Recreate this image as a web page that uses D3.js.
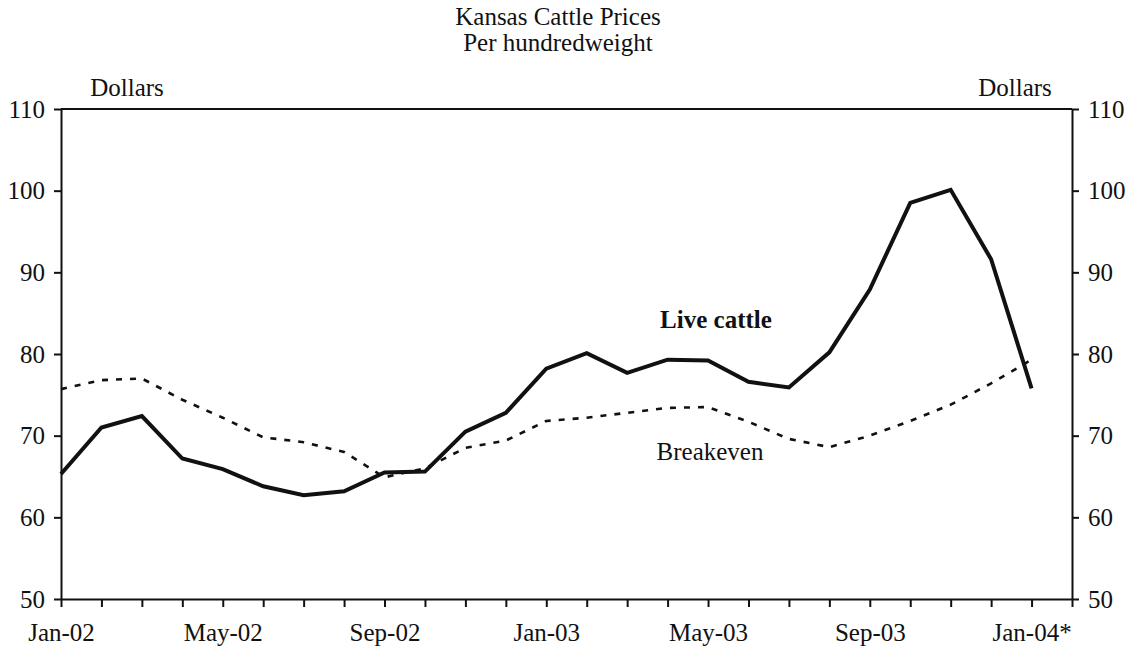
<!DOCTYPE html>
<html>
<head>
<meta charset="utf-8">
<script src="https://cdn.jsdelivr.net/npm/d3@7"></script>
<style>
  body { margin: 0; background: #fff; }
</style>
</head>
<body>
<div id="chart"></div>
<script>
// Monthly data, Jan-02 .. Jan-04
const months = ['Jan-02','Feb-02','Mar-02','Apr-02','May-02','Jun-02','Jul-02','Aug-02','Sep-02','Oct-02','Nov-02','Dec-02',
  'Jan-03','Feb-03','Mar-03','Apr-03','May-03','Jun-03','Jul-03','Aug-03','Sep-03','Oct-03','Nov-03','Dec-03','Jan-04*'];
const liveCattle = [65.3, 71.0, 72.4, 67.2, 65.9, 63.8, 62.7, 63.2, 65.5, 65.6, 70.5, 72.8,
  78.2, 80.1, 77.7, 79.3, 79.2, 76.6, 75.9, 80.2, 87.9, 98.5, 100.1, 91.6, 75.8];
const breakeven = [75.7, 76.8, 77.0, 74.4, 72.2, 69.8, 69.2, 68.0, 64.9, 66.0, 68.5, 69.4,
  71.8, 72.2, 72.8, 73.4, 73.5, 71.7, 69.6, 68.6, 70.0, 71.8, 73.8, 76.4, 79.3];
const yTicks = [50, 60, 70, 80, 90, 100, 110];

const width = 1142, height = 653;
const margin = { top: 109, right: 70, bottom: 54, left: 61 };
const FONT = "'Liberation Serif', 'DejaVu Serif', 'Times New Roman', serif";
const FS = "25px";

const svg = d3.select("#chart")
  .append("svg")
  .attr("width", width)
  .attr("height", height);

// x runs one month past the last point
const x = d3.scaleLinear()
  .domain([0, months.length])
  .range([margin.left, width - margin.right]);

const y = d3.scaleLinear()
  .domain([50, 110])
  .range([height - margin.bottom, margin.top]);

function label(xp, yp, txt, bold) {
  return svg.append("text")
    .attr("x", xp).attr("y", yp)
    .attr("text-anchor", "middle")
    .attr("font-family", FONT)
    .attr("font-size", FS)
    .attr("font-weight", bold ? "bold" : "normal")
    .attr("fill", "#111")
    .text(txt);
}

// Title
label(558, 25, "Kansas Cattle Prices");
label(558, 51, "Per hundredweight");
label(127, 96, "Dollars");
label(1015, 96, "Dollars");

// Top frame line
svg.append("line")
  .attr("x1", x(0)).attr("x2", x(months.length))
  .attr("y1", y(110)).attr("y2", y(110))
  .attr("stroke", "#111").attr("stroke-width", 2);

// Axes
const xAxis = d3.axisBottom(x)
  .tickValues(d3.range(0, months.length + 1))
  .tickFormat(i => (i % 4 === 0 && i < months.length) ? months[i] : "")
  .tickSize(8)
  .tickSizeOuter(0)
  .tickPadding(10);

const gx = svg.append("g")
  .attr("transform", `translate(0,${y(50)})`)
  .call(xAxis);

const yLeft = d3.axisLeft(y).tickValues(yTicks).tickSize(7).tickSizeOuter(0).tickPadding(9);
const yRight = d3.axisRight(y).tickValues(yTicks).tickSize(7).tickSizeOuter(0).tickPadding(9);

const gl = svg.append("g").attr("transform", `translate(${x(0)},0)`).call(yLeft);
const gr = svg.append("g").attr("transform", `translate(${x(months.length)},0)`).call(yRight);

[gx, gl, gr].forEach(g => {
  g.attr("font-family", FONT).attr("font-size", FS);
  g.selectAll("path, line").attr("stroke", "#111").attr("stroke-width", 2);
  g.selectAll("text").attr("fill", "#111");
});
gx.selectAll("text").attr("dy", "0.95em");

// Lines
const line = d3.line()
  .x((d, i) => x(i))
  .y(d => y(d));

svg.append("path")
  .datum(breakeven)
  .attr("fill", "none")
  .attr("stroke", "#111")
  .attr("stroke-width", 2.6)
  .attr("stroke-dasharray", "6,8")
  .attr("d", line);

svg.append("path")
  .datum(liveCattle)
  .attr("fill", "none")
  .attr("stroke", "#111")
  .attr("stroke-width", 4)
  .attr("stroke-linejoin", "miter")
  .attr("d", line);

// Series labels
label(716, 328, "Live cattle", true);
label(710, 460, "Breakeven");
</script>
</body>
</html>
